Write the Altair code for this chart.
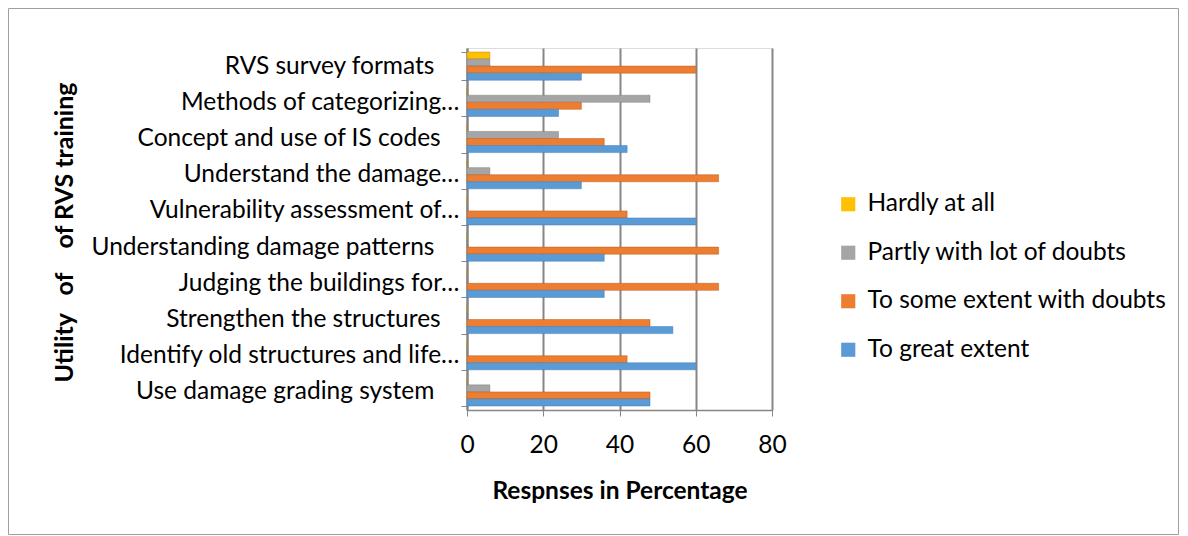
import altair as alt
import pandas as pd

NB = "\u00a0"
END = "\u200b"
categories = [
    "RVS survey formats" + NB * 4 + END,
    "Methods of categorizing…",
    "Concept and use of IS codes" + NB * 3 + END,
    "Understand the damage…",
    "Vulnerability assessment of…",
    "Understanding damage patterns" + NB * 4 + END,
    "Judging the buildings for…",
    "Strengthen the structures" + NB * 3 + END,
    "Identify old structures and life…",
    "Use damage grading system" + NB * 4 + END,
]
series = ["Hardly at all", "Partly with lot of doubts",
          "To some extent with doubts", "To great extent"]
colors = ["#FFC000", "#A5A5A5", "#ED7D31", "#5B9BD5"]

hardly = [6, 0, 0, 0, 0, 0, 0, 0, 0, 0]
partly = [6, 48, 24, 6, 0, 0, 0, 0, 0, 6]
some = [60, 30, 36, 66, 42, 66, 66, 48, 42, 48]
great = [30, 24, 42, 30, 60, 36, 36, 54, 60, 48]

rows = []
for i, c in enumerate(categories):
    for s, vals in zip(series, [hardly, partly, some, great]):
        rows.append({"cat": c, "series": s, "value": vals[i]})
df = pd.DataFrame(rows)

W, H = 305, 362
PL, PT, PR, PB = 459, 40, 408, 126

FONT = "Lato"
FS = 24.5

ytitle = "Utility" + NB * 2 + " of " + NB * 3 + "of RVS training"

bars = alt.Chart(df).mark_bar(strokeWidth=0.8, strokeOpacity=0.6).encode(
    y=alt.Y("cat:N", sort=categories,
            scale=alt.Scale(paddingInner=0.22, paddingOuter=0.11),
            axis=alt.Axis(title=ytitle,
                          titleFont=FONT, titleFontSize=25, titleFontWeight="bold",
                          titleColor="#000000", titleAngle=-90,
                          titleX=-403, titleY=184, titleAlign="center",
                          titleBaseline="middle",
                          labelFont=FONT, labelFontSize=FS, labelColor="#000000",
                          labelPadding=2, labelLimit=440,
                          domainColor="#868686", domainWidth=2,
                          ticks=True, tickBand="extent", tickColor="#868686",
                          tickSize=6, tickWidth=1)),
    yOffset=alt.YOffset("series:N", sort=series),
    x=alt.X("value:Q", scale=alt.Scale(domain=[0, 80]),
            axis=alt.Axis(values=[0, 20, 40, 60, 80], title="Respnses in Percentage",
                          titleFont=FONT, titleFontSize=FS, titleFontWeight="bold",
                          titleColor="#000000", titlePadding=23,
                          labelFont=FONT, labelFontSize=FS, labelColor="#000000",
                          labelPadding=17, labelFlush=False,
                          grid=True, gridColor="#868686", gridWidth=2,
                          domainColor="#868686", domainWidth=1.5,
                          tickColor="#868686", tickSize=6)),
    color=alt.Color("series:N", sort=series,
                    scale=alt.Scale(domain=series, range=colors),
                    legend=alt.Legend(title=None, orient="none",
                                      legendX=369, legendY=144,
                                      labelFont=FONT, labelFontSize=FS,
                                      labelColor="#000000", labelLimit=400,
                                      symbolType="square", symbolSize=200,
                                      symbolStrokeWidth=0,
                                      rowPadding=23.5, labelOffset=7)),
    stroke=alt.Stroke("series:N", sort=series,
                      scale=alt.Scale(domain=series,
                                      range=["#B8860B", "#7F7F7F", "#B85A1E", "#3F78B0"]),
                      legend=None),
)

border = alt.Chart(pd.DataFrame({"k": [0]})).mark_rect(
    fill=None, stroke="#A0A0A0", strokeWidth=1, clip=False
).encode(
    x=alt.value(-PL + 0.5), x2=alt.value(W + PR - 1.5),
    y=alt.value(-PT + 0.5), y2=alt.value(H + PB - 1.5),
)

chart = alt.layer(border, bars).properties(
    width=W, height=H,
    autosize=alt.AutoSizeParams(type="none"),
    padding={"left": PL, "top": PT, "right": PR, "bottom": PB},
).configure_view(stroke=None).configure(background="white")

chart.save("out.html", embed_options={"renderer": "svg", "actions": False})
